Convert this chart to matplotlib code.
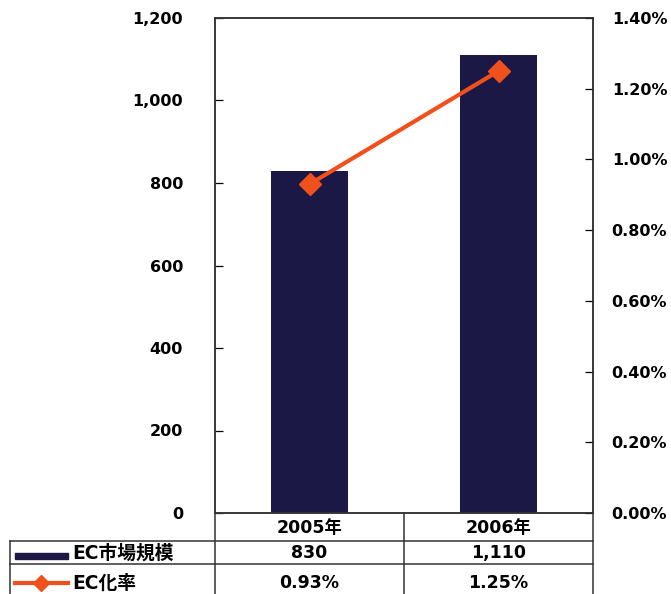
import matplotlib
matplotlib.use("Agg")
import matplotlib.pyplot as plt
from matplotlib.lines import Line2D
from matplotlib.patches import Rectangle
import numpy as np

categories = ["2005年", "2006年"]
market_size = [830, 1110]
ec_rate = [0.93, 1.25]
size_labels = ["830", "1,110"]
rate_labels = ["0.93%", "1.25%"]
series_names = ["EC市場規模", "EC化率"]
left_ticks = [0, 200, 400, 600, 800, 1000, 1200]
right_ticks = [0.0, 0.2, 0.4, 0.6, 0.8, 1.0, 1.2, 1.4]

BAR_COLOR = "#1c1845"
LINE_COLOR = "#f0501c"
FONT = ["DejaVu Sans", "Noto Sans CJK JP"]
FS = 11.5
TFS = 12.5

plt.rcParams["font.family"] = FONT

W, H = 671, 594
fig = plt.figure(figsize=(W / 100, H / 100), dpi=100)

L, R, T, B = 215, 593, 18, 513
ax = fig.add_axes([L / W, 1 - B / H, (R - L) / W, (B - T) / H])
x = np.arange(len(categories))
ax.bar(x, market_size, width=0.41, color=BAR_COLOR, zorder=2)
ax.set_xlim(-0.5, 1.5)
ax.set_ylim(0, 1200)
ax.set_yticks(left_ticks)
ax.set_yticklabels([f"{v:,}" for v in left_ticks], fontsize=FS, fontweight="bold")
ax.set_xticks([])

ax2 = ax.twinx()
ax2.plot(x, ec_rate, color=LINE_COLOR, lw=3, marker="D", ms=11, zorder=3)
ax2.set_ylim(0, 1.4)
ax2.set_yticks(right_ticks)
ax2.set_yticklabels([f"{v:.2f}%" for v in right_ticks], fontsize=FS, fontweight="bold")

# pads/lengths are in points (1 px = 0.72 pt at 100 dpi)
ax.tick_params(axis="y", direction="in", length=6, width=0.9, pad=23)
ax2.tick_params(axis="y", direction="in", length=6, width=0.9, pad=13.5)
for a in (ax, ax2):
    for s in a.spines.values():
        s.set_linewidth(1.1)
        s.set_color("#333333")

# overlay for data table (pixel coordinates)
ov = fig.add_axes([0, 0, 1, 1], facecolor="none")
ov.set_xlim(0, W)
ov.set_ylim(H, 0)
ov.axis("off")

lc = "#333333"
col_edges = [L, (L + R) / 2, R]
row_edges = [B, 541, 564, H]
lw = 1.1
for cx in col_edges:
    ov.add_line(Line2D([cx, cx], [B, H], color=lc, lw=lw))
ov.add_line(Line2D([10, 10], [row_edges[1], H], color=lc, lw=lw))
ov.add_line(Line2D([10, R], [row_edges[1], row_edges[1]], color=lc, lw=lw))
ov.add_line(Line2D([10, R], [row_edges[2], row_edges[2]], color=lc, lw=lw))

col_centers = [(col_edges[i] + col_edges[i + 1]) / 2 for i in range(2)]
row_centers = [528, 553, 583]

for i, c in enumerate(categories):
    ov.text(col_centers[i], row_centers[0], c, ha="center", va="center",
            fontsize=TFS, fontweight="bold", family=FONT)
for i in range(2):
    ov.text(col_centers[i], row_centers[1], size_labels[i], ha="center", va="center",
            fontsize=TFS, fontweight="bold", family=FONT)
    ov.text(col_centers[i], row_centers[2], rate_labels[i], ha="center", va="center",
            fontsize=TFS, fontweight="bold", family=FONT)

# legend keys
ov.add_patch(Rectangle((15, 553), 53, 6, color=BAR_COLOR))
ov.add_line(Line2D([15, 68], [583, 583], color=LINE_COLOR, lw=3))
ov.add_line(Line2D([41], [583], color=LINE_COLOR, marker="D", ms=8))
ov.text(72, row_centers[1], series_names[0], ha="left", va="center",
        fontsize=13.5, fontweight="bold", family=FONT)
ov.text(72, row_centers[2], series_names[1], ha="left", va="center",
        fontsize=13.5, fontweight="bold", family=FONT)

fig.savefig("out.png", dpi=100)
